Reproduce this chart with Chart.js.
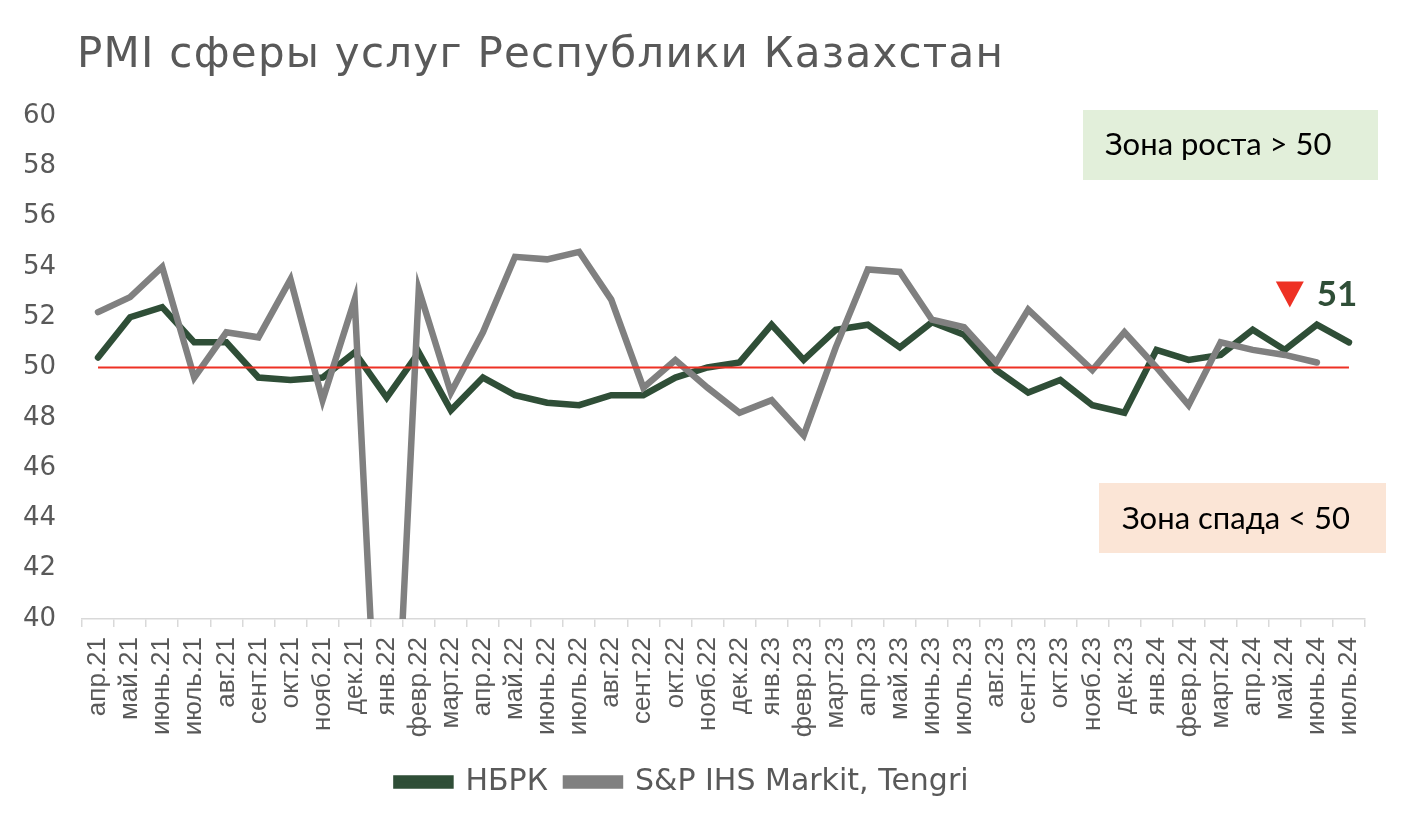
<!DOCTYPE html>
<html>
<head>
<meta charset="utf-8">
<script src="https://cdn.jsdelivr.net/npm/chart.js@4.4.1/dist/chart.umd.min.js"></script>
<style>
  html, body { margin: 0; padding: 0; background: #fff; }
  #wrap { width: 1407px; height: 813px; }
</style>
</head>
<body>
<div id="wrap"><canvas id="pmi"></canvas></div>
<script>
const months = ['апр.21', 'май.21', 'июнь.21', 'июль.21', 'авг.21', 'сент.21', 'окт.21', 'нояб.21', 'дек.21',
  'янв.22', 'февр.22', 'март.22', 'апр.22', 'май.22', 'июнь.22', 'июль.22', 'авг.22', 'сент.22', 'окт.22', 'нояб.22', 'дек.22',
  'янв.23', 'февр.23', 'март.23', 'апр.23', 'май.23', 'июнь.23', 'июль.23', 'авг.23', 'сент.23', 'окт.23', 'нояб.23', 'дек.23',
  'янв.24', 'февр.24', 'март.24', 'апр.24', 'май.24', 'июнь.24', 'июль.24'];

// НБРК
const nbrk = [50.4, 52.0, 52.4, 51.0, 51.0, 49.6, 49.5, 49.6, 50.6,
  48.8, 50.6, 48.3, 49.6, 48.9, 48.6, 48.5, 48.9, 48.9, 49.6, 50.0, 50.2,
  51.7, 50.3, 51.5, 51.7, 50.8, 51.8, 51.3, 49.9, 49.0, 49.5, 48.5, 48.2,
  50.7, 50.3, 50.5, 51.5, 50.7, 51.7, 51.0];

// S&P IHS Markit, Tengri
const spMarkit = [52.2, 52.8, 54.0, 49.6, 51.4, 51.2, 53.5, 48.7, 52.7,
  27.0, 53.1, 49.0, 51.4, 54.4, 54.3, 54.6, 52.7, 49.2, 50.3, 49.2, 48.2,
  48.7, 47.3, 50.8, 53.9, 53.8, 51.9, 51.6, 50.2, 52.3, 51.1, 49.9, 51.4,
  50.0, 48.5, 51.0, 50.7, 50.5, 50.2, null];

const threshold = months.map(() => 50);

const yTicks = [40, 42, 44, 46, 48, 50, 52, 54, 56, 58, 60];

const titleText = 'PMI сферы услуг Республики Казахстан';

const green = '#2f4e37';
const grey = '#808080';
const red = '#ee3124';

// заголовок и подписи зон
const notes = {
  id: 'notes',
  afterDraw(chart) {
    const c = chart.ctx;
    const x = chart.scales.x, y = chart.scales.y;
    c.save();

    c.fillStyle = '#595959';
    c.font = '42px "DejaVu Sans"';
    c.textBaseline = 'alphabetic';
    const w = c.measureText(titleText).width;
    c.letterSpacing = ((926 - w) / (titleText.length - 1)).toFixed(2) + 'px';
    c.fillText(titleText, 77, 67);
    c.letterSpacing = '0px';

    c.fillStyle = '#e2efda';
    c.fillRect(1083, 110, 295, 70);
    c.fillStyle = '#fbe5d6';
    c.fillRect(1099, 483, 287, 70);
    c.fillStyle = '#000';
    c.font = '31px Lato';
    c.textBaseline = 'middle';
    c.fillText('Зона роста > 50', 1105, 145);
    c.fillText('Зона спада < 50', 1122, 519);

    // последнее значение НБРК
    const tx = x.getPixelForValue(37) + 5;
    const ty = y.getPixelForValue(52.9);
    c.fillStyle = red;
    c.beginPath();
    c.moveTo(tx - 14, ty - 13);
    c.lineTo(tx + 14, ty - 13);
    c.lineTo(tx, ty + 13);
    c.closePath();
    c.fill();
    c.fillStyle = green;
    c.font = 'bold 35px Lato';
    c.fillText(String(Math.round(nbrk[nbrk.length - 1])), tx + 27, ty);
    c.restore();
  }
};

new Chart(document.getElementById('pmi'), {
  type: 'line',
  data: {
    labels: months,
    datasets: [
      {
        label: 'НБРК',
        data: nbrk,
        borderColor: green,
        backgroundColor: green,
        borderWidth: 6.5,
        pointRadius: 0,
        borderCapStyle: 'round',
        order: 2,
        clip: { left: 10, right: 10, top: 10, bottom: 0 }
      },
      {
        label: 'S&P IHS Markit, Tengri',
        data: spMarkit,
        borderColor: grey,
        backgroundColor: grey,
        borderWidth: 6.5,
        pointRadius: 0,
        borderCapStyle: 'round',
        order: 1,
        clip: { left: 10, right: 10, top: 10, bottom: 0 }
      },
      {
        label: '50',
        data: threshold,
        borderColor: red,
        borderWidth: 2,
        pointRadius: 0,
        order: 0
      }
    ]
  },
  options: {
    responsive: true,
    maintainAspectRatio: false,
    animation: false,
    layout: { padding: { left: 0, right: 42, top: 116, bottom: 6 } },
    plugins: {
      title: { display: false },
      legend: {
        position: 'bottom',
        labels: {
          color: '#595959',
          font: { family: '"DejaVu Sans"', size: 30 },
          boxWidth: 54,
          boxHeight: 7,
          padding: 18,
          filter: item => item.datasetIndex < 2,
          sort: (a, b) => a.datasetIndex - b.datasetIndex
        }
      },
      tooltip: { enabled: false }
    },
    scales: {
      x: {
        offset: true,
        afterFit: s => { s.height = 130; },
        grid: {
          display: true,
          drawOnChartArea: false,
          drawTicks: true,
          tickLength: 8,
          offset: true,
          color: '#d9d9d9',
          lineWidth: 1.5
        },
        border: { display: true, color: '#d9d9d9', width: 1.5 },
        ticks: {
          autoSkip: false,
          minRotation: 90,
          maxRotation: 90,
          padding: 10,
          color: '#595959',
          font: { family: '"Liberation Sans"', size: 26 }
        }
      },
      y: {
        min: 40,
        max: 60,
        afterFit: s => { s.width = 82; },
        afterBuildTicks: s => { s.ticks = yTicks.map(v => ({ value: v })); },
        grid: { display: false },
        border: { display: false },
        ticks: {
          padding: 18,
          color: '#595959',
          font: { family: '"DejaVu Sans"', size: 26 }
        }
      }
    }
  },
  plugins: [notes]
});
</script>
</body>
</html>
